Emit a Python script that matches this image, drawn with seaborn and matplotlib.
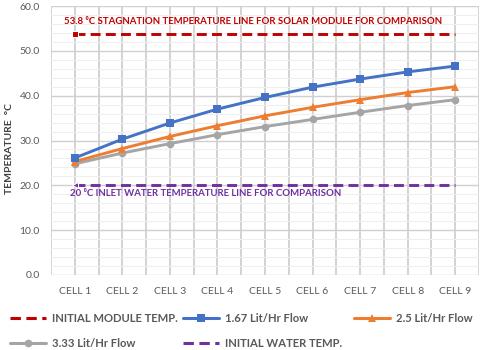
import numpy as np
import pandas as pd
import seaborn as sns
import matplotlib.pyplot as plt
from matplotlib.lines import Line2D
from matplotlib.ticker import MultipleLocator, FixedLocator

cells = ["CELL 1", "CELL 2", "CELL 3", "CELL 4", "CELL 5", "CELL 6", "CELL 7", "CELL 8", "CELL 9"]
flow_167 = [26.1, 30.3, 33.9, 37.0, 39.6, 41.9, 43.7, 45.3, 46.6]
flow_25 = [25.3, 28.2, 30.9, 33.3, 35.5, 37.4, 39.1, 40.7, 42.0]
flow_333 = [24.8, 27.2, 29.3, 31.3, 33.1, 34.7, 36.3, 37.8, 39.1]
module_temp = 53.8
water_temp = 20.0
y_ticks = [0, 10, 20, 30, 40, 50, 60]

sns.set_style("white")
plt.rcParams["font.family"] = ["Lato", "DejaVu Sans"]

RED = "#C00000"
BLUE = "#4472C4"
ORANGE = "#ED7D31"
GRAY = "#A5A5A5"
PURPLE = "#7030A0"
TXT = "#595959"

fig = plt.figure(figsize=(4.8, 3.5), dpi=100)
ax = fig.add_axes([51 / 480, 1 - 275 / 350, 428 / 480, 269 / 350])

df = pd.DataFrame({"cell": cells, "f167": flow_167, "f25": flow_25, "f333": flow_333,
                   "mod": [module_temp] * len(cells), "wat": [water_temp] * len(cells)})

lw = 2.1
dash = (0, (3.4, 1.8))
sns.lineplot(data=df, x="cell", y="mod", ax=ax, color=RED, lw=lw, marker="s", ms=5,
             markevery=[0], linestyle=dash, zorder=3)
sns.lineplot(data=df, x="cell", y="wat", ax=ax, color=PURPLE, lw=lw, marker="<", ms=5,
             markevery=[0], linestyle=dash, zorder=3)
sns.lineplot(data=df, x="cell", y="f333", ax=ax, color=GRAY, lw=lw, marker="o", ms=5.5,
             markeredgewidth=0, zorder=4)
sns.lineplot(data=df, x="cell", y="f25", ax=ax, color=ORANGE, lw=lw, marker="^", ms=5.5,
             markeredgewidth=0, zorder=5)
sns.lineplot(data=df, x="cell", y="f167", ax=ax, color=BLUE, lw=lw, marker="s", ms=5.8,
             markeredgewidth=0, zorder=6)

ax.set_xlim(-0.5, len(cells) - 0.5)
ax.set_yticks(y_ticks)
ax.set_yticklabels([f"{v:.1f}" for v in y_ticks])
ax.set_ylim(0, 60)
ax.yaxis.set_minor_locator(MultipleLocator(2))
ax.xaxis.set_minor_locator(FixedLocator(np.arange(-0.5, len(cells), 1.0)))
ax.grid(which="major", axis="y", color="#D0D0D0", lw=1.0)
ax.grid(which="minor", axis="y", color="#EFEFEF", lw=0.8)
ax.grid(which="both", axis="x", color="#C8C8C8", lw=1.1)
ax.set_axisbelow(True)
for s in ax.spines.values():
    s.set_visible(False)
ax.tick_params(which="both", length=0)
ax.tick_params(axis="x", labelsize=7.5, labelcolor=TXT, pad=9)
ax.tick_params(axis="y", labelsize=7.5, labelcolor=TXT, pad=8)
ax.set_xlabel("")
ax.set_ylabel("TEMPERATURE  °C", fontsize=7.5, fontweight="bold", color="#404040")
ax.yaxis.set_label_coords(-0.086, 0.47)

ax.text(-0.23, 56.5, "53.8 \u2070C STAGNATION TEMPERATURE LINE FOR SOLAR MODULE FOR COMPARISON",
        color=RED, fontsize=6.9, fontweight="bold", ha="left", va="center")
ax.text(-0.10, 18.1, "20 \u2070C INLET WATER TEMPERATURE LINE FOR COMPARISON",
        color=PURPLE, fontsize=6.9, fontweight="bold", ha="left", va="center")

h_mod = Line2D([], [], color=RED, lw=2.2, linestyle=dash)
h_wat = Line2D([], [], color=PURPLE, lw=2.2, linestyle=dash)
h_167 = Line2D([], [], color=BLUE, lw=2.2, marker="s", ms=5.8, mew=0)
h_25 = Line2D([], [], color=ORANGE, lw=2.2, marker="^", ms=5.5, mew=0)
h_333 = Line2D([], [], color=GRAY, lw=2.2, marker="o", ms=5.5, mew=0)

leg_kw = dict(frameon=False, fontsize=8.1, handlelength=3.2, handletextpad=0.5,
              labelspacing=1.25, borderpad=0, borderaxespad=0, loc="upper left")
cols = [(10, [h_mod, h_333], ["INITIAL MODULE TEMP.", "3.33 Lit/Hr Flow"]),
        (183, [h_167, h_wat], ["1.67 Lit/Hr Flow", "INITIAL WATER TEMP."]),
        (354, [h_25], ["2.5 Lit/Hr Flow"])]
for x0, hs, ls in cols:
    leg = fig.legend(hs, ls, bbox_to_anchor=(x0 / 480, 1 - 313 / 350), **leg_kw)
    for t in leg.get_texts():
        t.set_color(TXT)
        t.set_fontweight("bold")

fig.savefig("out.png", dpi=100)
